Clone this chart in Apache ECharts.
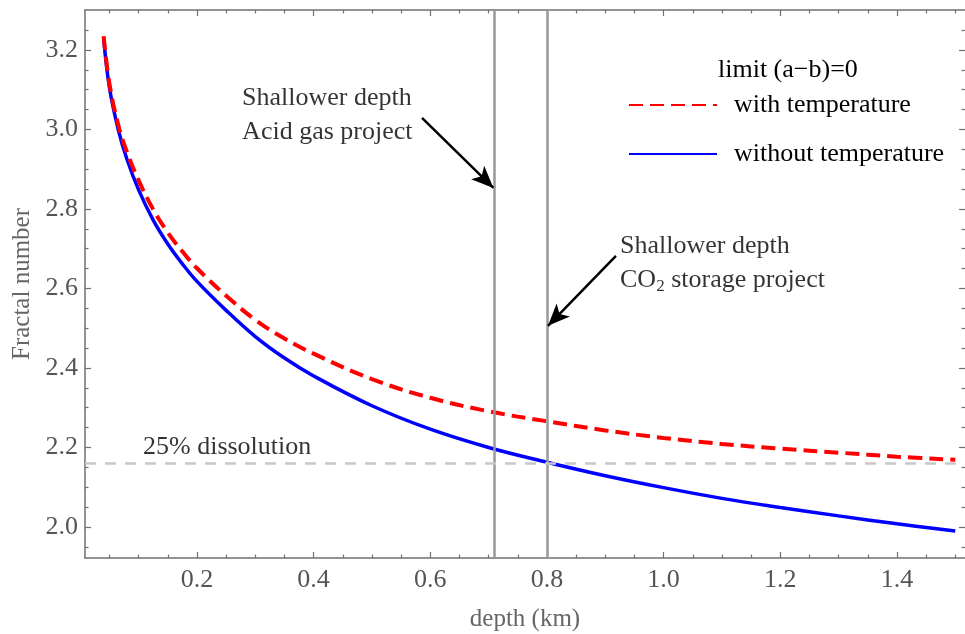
<!DOCTYPE html>
<html>
<head>
<meta charset="utf-8">
<script src="https://cdn.jsdelivr.net/npm/echarts@6/dist/echarts.min.js"></script>
<style>
	html,body{margin:0;padding:0;background:#fff;}
	#main{width:965px;height:634px;}
</style>
</head>
<body>
<div id="main"></div>
<script>
	// depth (km) where the curves were read
	var depth = [0.04,0.05,0.065,0.08,0.1,0.125,0.15,0.175,0.2,0.25,0.3,0.35,0.4,0.5,0.6,0.7,0.8,0.9,1.0,1.1,1.2,1.3,1.4,1.5]
	var withTemp = [3.235,3.115,3.012,2.943,2.872,2.799,2.741,2.693,2.651,2.582,2.521,2.474,2.436,2.372,2.325,2.291,2.266,2.243,2.224,2.209,2.197,2.187,2.177,2.169]
	var withoutTemp = [3.23,3.105,3.0,2.925,2.848,2.772,2.712,2.662,2.618,2.545,2.479,2.425,2.38,2.305,2.246,2.2,2.163,2.129,2.099,2.072,2.049,2.028,2.008,1.99]

	var xMajor = [0.2,0.4,0.6,0.8,1.0,1.2,1.4]
	var xMinor = [0.05,0.1,0.15,0.25,0.3,0.35,0.45,0.5,0.55,0.65,0.7,0.75,0.85,0.9,0.95,1.05,1.1,1.15,1.25,1.3,1.35,1.45,1.5]
	var yMajor = [2.0,2.2,2.4,2.6,2.8,3.0,3.2]
	var yMinor = [1.95,2.05,2.1,2.15,2.25,2.3,2.35,2.45,2.5,2.55,2.65,2.7,2.75,2.85,2.9,2.95,3.05,3.1,3.15,3.25]

	var projectDepth = [0.714,0.8]   // acid gas, CO2 storage
	var dissolution = 2.163          // 25% dissolution level

	var arrowAcid = [[0.5858,3.029],[0.7082,2.853]]
	var arrowCO2 = [[0.9183,2.682],[0.8018,2.506]]
	var noteAcid = [0.2774,3.036]
	var noteCO2 = [0.9253,2.664]
	var noteDiss = [0.1075,2.2]

	var xMin = 0.00806, xMax = 1.5167
	var yMin = 1.922, yMax = 3.3006

	var serif = 'Liberation Serif'
	var frame = '#707070'

	function pairs(xs,ys){
		var out=[]
		for(var i=0;i<xs.length;i++){
			out.push([xs[i],ys[i]])
		}
		return out
	}

	function xAx(pos,ticks,len,line,labels){
		return {
			type:'value', position:pos, min:xMin, max:xMax,
			axisLine:{show:line, onZero:false, lineStyle:{color:frame,width:1.5}},
			axisTick:{show:true, inside:true, length:len, customValues:ticks, lineStyle:{color:frame,width:1.2}},
			axisLabel:labels ? {show:true, customValues:ticks, margin:9, color:'#555', fontFamily:serif, fontSize:26,
				formatter:function(v){return v.toFixed(1)}} : {show:false},
			splitLine:{show:false}
		}
	}
	function yAx(pos,ticks,len,line,labels){
		return {
			type:'value', position:pos, min:yMin, max:yMax,
			axisLine:{show:line, onZero:false, lineStyle:{color:frame,width:1.5}},
			axisTick:{show:true, inside:true, length:len, customValues:ticks, lineStyle:{color:frame,width:1.2}},
			axisLabel:labels ? {show:true, customValues:ticks, margin:7, color:'#555', fontFamily:serif, fontSize:26,
				formatter:function(v){return v.toFixed(1)}} : {show:false},
			splitLine:{show:false}
		}
	}

	var xAxes = [
		xAx('bottom',xMajor,6,true,true),
		xAx('bottom',xMinor,3.5,false,false),
		xAx('top',xMajor,6,true,false),
		xAx('top',xMinor,3.5,false,false)
	]
	xAxes[0].name = 'depth (km)'
	xAxes[0].nameLocation = 'middle'
	xAxes[0].nameGap = 49
	xAxes[0].nameTextStyle = {color:'#666', fontFamily:serif, fontSize:25}

	var yAxes = [
		yAx('left',yMajor,6,true,true),
		yAx('left',yMinor,3.5,false,false),
		yAx('right',yMajor,6,false,false),
		yAx('right',yMinor,3.5,false,false)
	]
	yAxes[0].name = 'Fractal number'
	yAxes[0].nameLocation = 'middle'
	yAxes[0].nameGap = 50
	yAxes[0].nameRotate = 90
	yAxes[0].nameTextStyle = {color:'#666', fontFamily:serif, fontSize:25}

	var chart = echarts.init(document.getElementById('main'))
	var option = {
		animation:false,
		backgroundColor:'#fff',
		title:{
			text:'limit (a\u2212b)=0',
			left:713, top:52,
			textStyle:{color:'#000', fontFamily:serif, fontSize:26, fontWeight:'normal'}
		},
		legend:{
			data:['with temperature','without temperature'],
			orient:'vertical',
			left:623, top:87,
			itemWidth:88, itemHeight:2, itemGap:23,
			itemStyle:{opacity:0},
			textStyle:{color:'#000', fontFamily:serif, fontSize:26, padding:[0,0,0,12]},
			selectedMode:false
		},
		grid:{left:85, right:0, top:10, bottom:76, outerBoundsMode:'none', containLabel:false},
		xAxis:xAxes,
		yAxis:yAxes,
		series:[
			{
				name:'without temperature',
				type:'line',
				data:pairs(depth,withoutTemp),
				smooth:0.4,
				showSymbol:false, symbol:'none',
				lineStyle:{color:'#0000ff', width:3.5},
				itemStyle:{color:'#0000ff'},
				silent:true,
				z:3,
				markLine:{
					silent:true, symbol:['none','none'],
					label:{show:false},
					data:[
						{xAxis:projectDepth[0], lineStyle:{color:'#999', width:2.5, type:'solid'}},
						{xAxis:projectDepth[1], lineStyle:{color:'#999', width:2.5, type:'solid'}},
						{yAxis:dissolution, lineStyle:{color:'#c8c8c8', width:2.5, type:[11,9]}}
					]
				}
			},
			{
				name:'with temperature',
				type:'line',
				data:pairs(depth,withTemp),
				smooth:0.4,
				showSymbol:false, symbol:'none',
				lineStyle:{color:'#ff0000', width:4, type:[14,7]},
				itemStyle:{color:'#ff0000'},
				silent:true,
				z:4,
				markLine:{
					silent:true,
					symbol:['none','arrow'],
					symbolSize:[14,22],
					label:{show:false},
					lineStyle:{color:'#000', width:2.5, type:'solid'},
					data:[
						[{coord:arrowAcid[0]},{coord:arrowAcid[1]}],
						[{coord:arrowCO2[0]},{coord:arrowCO2[1]}]
					]
				}
			},
			{
				name:'notes',
				type:'scatter',
				symbolSize:0,
				silent:true,
				data:[
					{value:noteAcid, label:{formatter:'Shallower depth\nAcid gas project'}},
					{value:noteCO2, label:{formatter:'{t|Shallower depth}\n{t|CO}{s|2}{t| storage project}'}},
					{value:noteDiss, label:{formatter:'25% dissolution'}}
				],
				label:{
					show:true, position:'right', distance:0,
					color:'#000', fontFamily:serif, fontSize:26, lineHeight:34,
					rich:{
						t:{color:'#000', fontFamily:serif, fontSize:26, lineHeight:34},
						s:{color:'#000', fontFamily:serif, fontSize:17, lineHeight:34, padding:[12,0,0,0]}
					}
				}
			}
		]
	}
	chart.setOption(option)
</script>
</body>
</html>
